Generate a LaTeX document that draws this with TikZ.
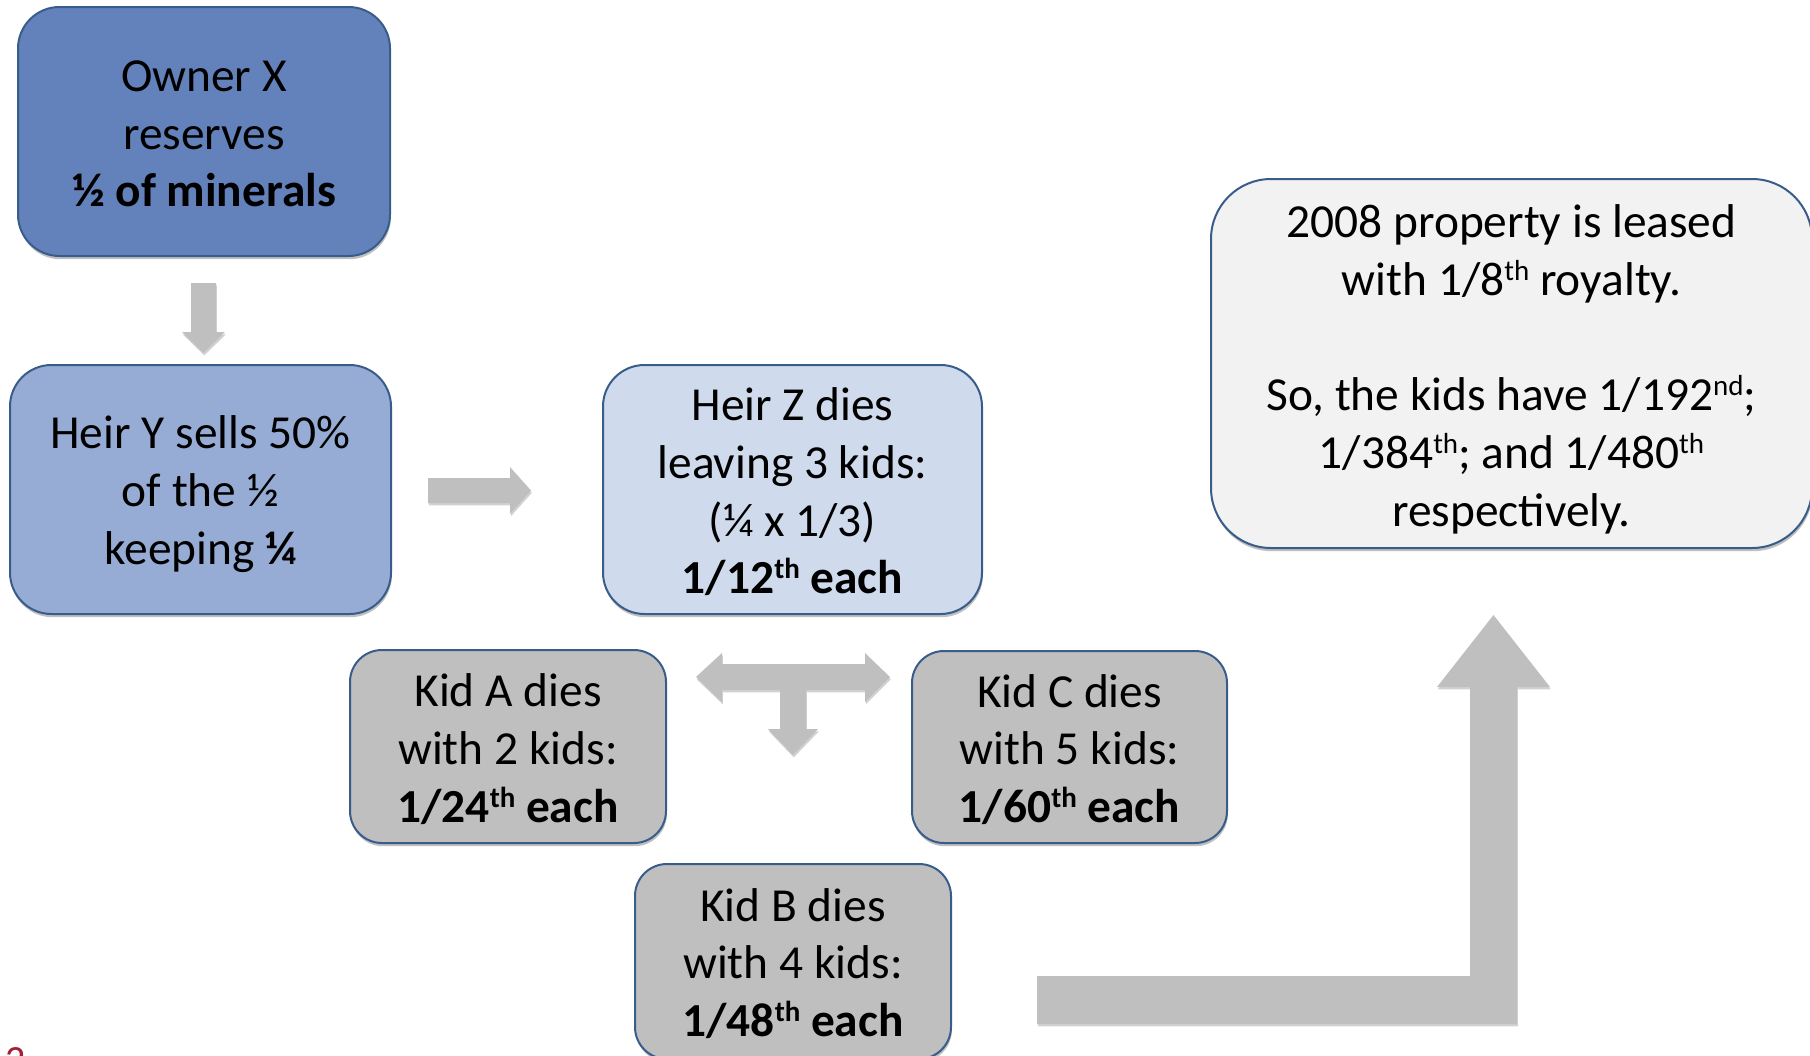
\documentclass[tikz,border=0pt]{standalone}
\usepackage{fontspec}
\setmainfont{Carlito}
\usetikzlibrary{shadows}
\definecolor{edgeblue}{HTML}{385D8A}
\definecolor{fillone}{HTML}{6381BA}
\definecolor{filltwo}{HTML}{96ACD4}
\definecolor{fillthree}{HTML}{CFDAEC}
\definecolor{fillkid}{HTML}{BFBFBF}
\definecolor{fillnote}{HTML}{F2F2F2}
\definecolor{arrowgray}{HTML}{BFBFBF}
\definecolor{slidered}{HTML}{A31F34}
\newcommand\supx[1]{\raisebox{7.5pt}{\fontsize{14.5}{14.5}\selectfont #1}}
\begin{document}
\begin{tikzpicture}[x=0.5pt,y=-0.5pt,
  box/.style={draw=edgeblue, line width=1pt, inner sep=0pt,
    drop shadow={shadow xshift=0.4pt, shadow yshift=-1.6pt, opacity=0.25, fill=black}},
  boxtext/.style={align=center, inner sep=0pt, text=black,
    font=\fontsize{23.7}{28.9}\selectfont},
  blockarrow/.style={fill=arrowgray, draw=none,
    drop shadow={shadow xshift=0.4pt, shadow yshift=-1.2pt, opacity=0.18, fill=black}}]
\useasboundingbox (0,0) rectangle (1810,1055);
\clip (0,0) rectangle (1810,1055);

% boxes
\node[box, fill=fillone, minimum width=186pt, minimum height=124.5pt, rounded corners=20.75pt]
  (owner) at (204,131.5) {};
\node[boxtext, yshift=-1.2pt] (ownertext) at (owner.center)
  {Owner X\\reserves\\\textbf{½ of minerals}};

\node[box, fill=filltwo, minimum width=190.5pt, minimum height=124.5pt, rounded corners=20.75pt]
  (heiry) at (200.5,489.5) {};
\node[boxtext, yshift=-2.3pt] (heirytext) at (heiry.center)
  {Heir Y sells 50\%\\of the ½\\keeping \textbf{¼}};

\node[box, fill=fillthree, minimum width=189.5pt, minimum height=124.5pt, rounded corners=20.75pt]
  (heirz) at (792.5,489.5) {};
\node[boxtext, yshift=-1.2pt] (heirztext) at (heirz.center)
  {Heir Z dies\\leaving 3 kids:\\(¼ x 1/3)\\\textbf{1/12\supx{th} each}};

\node[box, fill=fillkid, minimum width=158pt, minimum height=96.5pt, rounded corners=16pt]
  (kida) at (508,746.5) {};
\node[boxtext, yshift=-1.3pt] (kidatext) at (kida.center)
  {Kid A dies\\with 2 kids:\\\textbf{1/24\supx{th} each}};

\node[box, fill=fillkid, minimum width=157.5pt, minimum height=96pt, rounded corners=16pt]
  (kidc) at (1069.5,747) {};
\node[boxtext, yshift=-1.3pt] (kidctext) at (kidc.center)
  {Kid C dies\\with 5 kids:\\\textbf{1/60\supx{th} each}};

\node[box, fill=fillkid, minimum width=158pt, minimum height=97.5pt, rounded corners=16pt]
  (kidb) at (793,961.5) {};
\node[boxtext, yshift=-1.0pt] (kidbtext) at (kidb.center)
  {Kid B dies\\with 4 kids:\\\textbf{1/48\supx{th} each}};

\node[box, fill=fillnote, minimum width=300.5pt, minimum height=184.5pt, rounded corners=30pt]
  (lease) at (1511.5,363.5) {};
\node[boxtext, yshift=-2.8pt] (leasetext) at (lease.center)
  {2008 property is leased\\with 1/8\supx{th} royalty.\\[28.9pt]So, the kids have 1/192\supx{nd};\\1/384\supx{th}; and 1/480\supx{th}\\respectively.};

% block arrows
\fill[blockarrow] (191,283) -- (216,283) -- (216,332) -- (225,332) -- (203.5,353)
  -- (182,332) -- (191,332) -- cycle;
\fill[blockarrow] (428,478) -- (510,478) -- (510,467) -- (531,490.5) -- (510,514)
  -- (510,503) -- (428,503) -- cycle;
\fill[blockarrow] (696,677) -- (722,653) -- (722,664) -- (865,664) -- (865,653)
  -- (890,677) -- (865,702) -- (865,690) -- (806,690) -- (806,729) -- (818,729)
  -- (793,755) -- (768,729) -- (780,729) -- (780,690) -- (722,690) -- (722,702) -- cycle;
\fill[blockarrow] (1037,976) -- (1470,976) -- (1470,687) -- (1437,687) -- (1493.5,615)
  -- (1550,687) -- (1517,687) -- (1517,1024) -- (1037,1024) -- cycle;

% slide number (cut off)
\node[anchor=base west, text=slidered, font=\fontsize{20}{24}\selectfont, inner sep=0pt]
  (slidenum) at (5,1073) {2};
\end{tikzpicture}
\end{document}
